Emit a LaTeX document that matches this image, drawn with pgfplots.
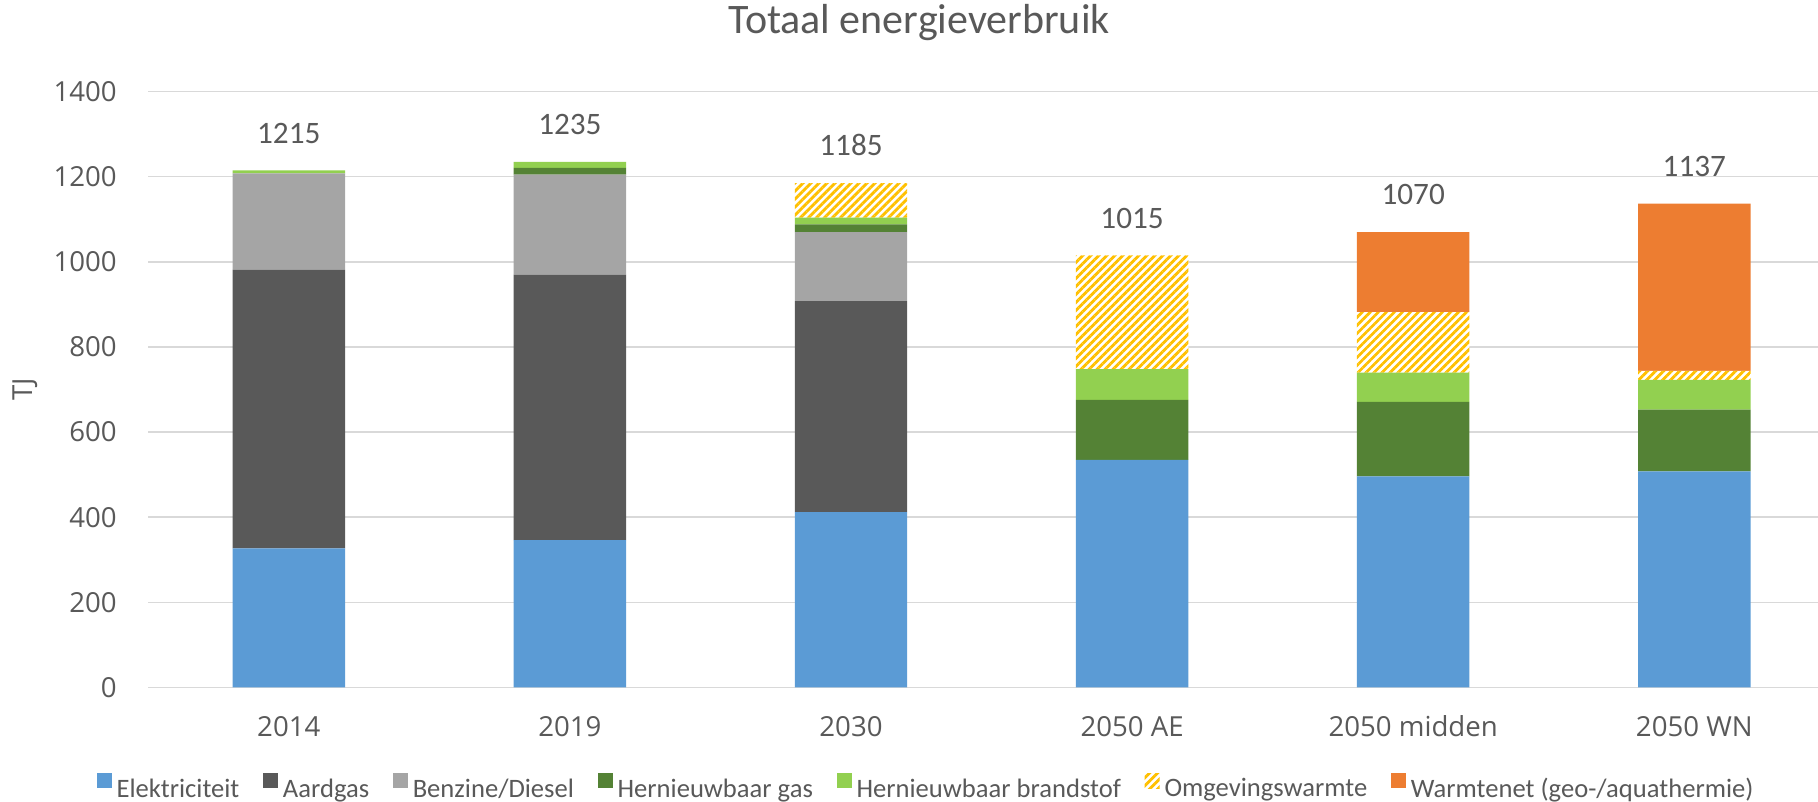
\documentclass[border=0pt]{standalone}
\usepackage{pgfplots}
\pgfplotsset{compat=1.18}
\usepackage{fontspec}
\setmainfont{Carlito}
\newfontfamily\osans{Open Sans}
\usetikzlibrary{patterns.meta}
\definecolor{elek}{HTML}{5B9BD5}
\definecolor{aard}{HTML}{595959}
\definecolor{benz}{HTML}{A5A5A5}
\definecolor{hgas}{HTML}{548235}
\definecolor{hbr}{HTML}{92D050}
\definecolor{omg}{HTML}{FFC000}
\definecolor{warm}{HTML}{ED7D31}
\definecolor{txt}{HTML}{595959}
\definecolor{gridc}{HTML}{D9D9D9}
\begin{document}
\begin{tikzpicture}
\begin{axis}[
  name=ax, at={(0,0)}, anchor=south west,
  scale only axis, width=834.875pt, height=297.95pt,
  ybar stacked, bar width=0.4,
  xmin=-0.5, xmax=5.44, ymin=0, ymax=1400,
  xtick={0,1,2,3,4,5},
  xticklabels={2014,2019,2030,2050 AE,2050 midden,2050 WN},
  ytick={0,200,400,600,800,1000,1200,1400},
  ymajorgrids, major grid style={draw=gridc, line width=0.75pt},
  axis x line*=bottom, axis y line*=left,
  x axis line style={draw=gridc, line width=0.75pt, -},
  y axis line style={draw=none},
  major tick length=0pt,
  tick label style={font=\osans\fontsize{13.8}{16}\selectfont, text=txt, inner sep=0pt},
  /pgf/number format/assume math mode=true,
  /pgf/number format/set thousands separator={},
  x tick label style={anchor=base, yshift=-24.75pt},
  y tick label style={anchor=east, xshift=-15.6pt},
  title={Totaal energieverbruik},
  title style={at={(axis description cs:0.4616,1.0953)}, anchor=center, font=\fontsize{21}{25}\selectfont, text=txt},
  ylabel={TJ},
  ylabel style={at={(axis description cs:-0.0735,0.5)}, anchor=center, font=\osans\fontsize{13.8}{16}\selectfont, text=txt},
  legend columns=-1,
  legend style={at={(axis description cs:0.4652,-0.167)}, anchor=center, draw=none, fill=none,
    font=\fontsize{13.3}{15}\selectfont, text=txt, nodes={inner sep=0pt},
    /tikz/every odd column/.style={column sep=2.5pt},
    /tikz/every even column/.style={column sep=11.8pt}},
  legend image code/.code={\path[#1] (0pt,0.4pt) rectangle (7.5pt,7.9pt);},
]
\addplot[fill=elek, draw=none] coordinates {(0,327) (1,346) (2,412) (3,535) (4,496) (5,508)};
\addplot[fill=aard, draw=none] coordinates {(0,655) (1,624) (2,496) (3,0) (4,0) (5,0)};
\addplot[fill=benz, draw=none] coordinates {(0,226) (1,235) (2,162) (3,0) (4,0) (5,0)};
\addplot[fill=hgas, draw=none] coordinates {(0,0) (1,16) (2,18) (3,141) (4,175) (5,145)};
\addplot[fill=hbr, draw=none] coordinates {(0,7) (1,14) (2,16) (3,72) (4,69) (5,70)};
\addplot[fill=white, draw=none, postaction={pattern={Lines[angle=45,distance=2.83pt,line width=1.4pt]}, pattern color=omg}] coordinates {(0,0) (1,0) (2,81) (3,267) (4,142) (5,21)};
\addplot[fill=warm, draw=none] coordinates {(0,0) (1,0) (2,0) (3,0) (4,188) (5,393)};
\legend{Elektriciteit, Aardgas, Benzine/Diesel, Hernieuwbaar gas, Hernieuwbaar brandstof, Omgevingswarmte, Warmtenet (geo-/aquathermie)}
\end{axis}
\begin{axis}[
  at={(0,0)}, anchor=south west,
  scale only axis, width=834.875pt, height=297.95pt,
  xmin=-0.5, xmax=5.44, ymin=0, ymax=1400,
  hide axis, clip=false,
]
\addplot[draw=none, mark=none, nodes near coords, point meta=explicit symbolic,
  every node near coord/.append style={anchor=base, inner sep=0pt, yshift=13.65pt, font=\fontsize{15.6}{18}\selectfont, text=txt}]
  coordinates {(0,1215)[1215] (1,1235)[1235] (2,1185)[1185] (3,1015)[1015] (4,1070)[1070] (5,1137)[1137]};
\end{axis}
\pgfresetboundingbox
\path[use as bounding box] ([shift={(-74.125pt,-57.25pt)}]ax.south west) rectangle ([shift={(0pt,45.8pt)}]ax.north east);
\end{tikzpicture}
\end{document}
